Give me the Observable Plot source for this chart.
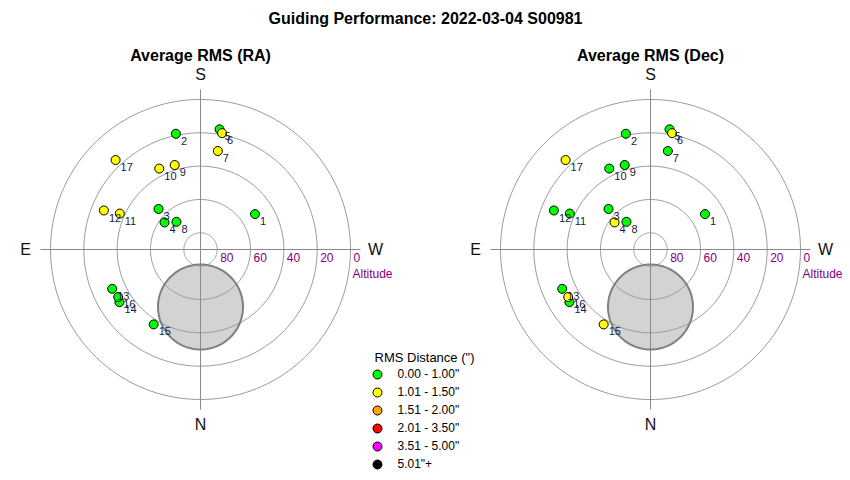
<!DOCTYPE html>
<html>
<head>
<meta charset="utf-8">
<script src="https://cdn.jsdelivr.net/npm/d3@7"></script>
<script src="https://cdn.jsdelivr.net/npm/@observablehq/plot@0.6"></script>
<style>
  html, body { margin: 0; padding: 0; background: #fff; }
  #chart { width: 850px; height: 480px; }
</style>
</head>
<body>
<div id="chart"></div>
<script>
// ---- data ----
const title = "Guiding Performance: 2022-03-04 S00981";
const panelTitles = ["Average RMS (RA)", "Average RMS (Dec)"];
const ids = [1, 2, 3, 4, 5, 6, 7, 8, 9, 10, 11, 12, 13, 14, 15, 16, 17];
const altitude = [51, 19, 55, 63, 17, 19, 30, 68, 37, 35.5, 37, 27.5, 32, 32, 37, 33, 16];
const azimuth = [237, 168, 134, 127, 189, 190.5, 190, 139, 163, 153, 114, 112, 66, 57, 32, 60, 136.5];
// RMS bin index per pointing (0 = 0.00-1.00", 1 = 1.01-1.50")
const raBin  = [0, 0, 0, 0, 0, 1, 1, 0, 1, 1, 1, 1, 0, 0, 0, 0, 1];
const decBin = [0, 0, 0, 1, 0, 1, 0, 0, 0, 0, 0, 0, 0, 0, 1, 1, 1];
const binLabels = ["0.00 - 1.00\"", "1.01 - 1.50\"", "1.51 - 2.00\"", "2.01 - 3.50\"", "3.51 - 5.00\"", "5.01\"+"];
const binColors = ["#00ff00", "#ffff00", "#ffa500", "#ff0000", "#ff00ff", "#000000"];
const legendTitle = "RMS Distance (\")";
const altRings = [80, 60, 40, 20, 0];
const compass = [{t: "S", az: 180}, {t: "N", az: 0}, {t: "E", az: 90}, {t: "W", az: 270}];
const moonAlt = 55.5, moonAz = 0, moonRadius = 25.5;

// ---- layout ----
const W = 850, H = 480;
const PX = 150 / 90;          // pixels per degree of zenith distance
const cx0 = 200, cy0 = 249;   // centre of left panel (px)
const panelOffset = [0, 450 / PX]; // right panel centre 450px to the right

const rad = Math.PI / 180;
function proj(alt, az, off) {
  const zd = 90 - alt;
  return {x: off - zd * Math.sin(az * rad), y: -zd * Math.cos(az * rad)};
}

const panels = panelTitles.map((t, i) => ({title: t, off: panelOffset[i], bins: i === 0 ? raBin : decBin, key: i}));

const points = panels.flatMap(p => ids.map((id, i) => ({
  ...proj(altitude[i], azimuth[i], p.off), id: String(id), bin: binLabels[p.bins[i]]
})));

const rings = panels.flatMap(p => altRings.flatMap(a =>
  d3.range(0, 361, 2).map(t => ({...proj(a, t, p.off), z: p.key + "-" + a}))));

const axesLines = panels.flatMap(p => [
  {a: proj(-6, 0, p.off), b: proj(-6, 180, p.off)},
  {a: proj(-6, 90, p.off), b: proj(-6, 270, p.off)}
]);

const moon = panels.flatMap(p => {
  const c = proj(moonAlt, moonAz, p.off);
  return d3.range(0, 361, 3).map(t => ({x: c.x + moonRadius * Math.cos(t * rad), y: c.y + moonRadius * Math.sin(t * rad), z: p.key}));
});

const compassPts = panels.flatMap(p => compass.map(c => ({...proj(-15, c.az, p.off), t: c.t})));
const tickPts = panels.flatMap(p => altRings.map(a => ({...proj(a, 270, p.off), t: String(a)})));
const altLabel = panels.map(p => ({...proj(0, 270, p.off), t: "Altitude"}));

const font = "Arial, 'Liberation Sans', Helvetica, sans-serif";

const legendMarks = binLabels.flatMap((b, i) => [
  Plot.dot([b], {frameAnchor: "top-left", dx: 377, dy: 374 + 18 * i, r: 4.5, fill: d => d, stroke: "#000", strokeWidth: 1}),
  Plot.text([b], {frameAnchor: "top-left", dx: 397, dy: 374 + 18 * i, lineAnchor: "middle", text: d => d, textAnchor: "start", fontSize: 12, fill: "#000"})
]);

const chart = Plot.plot({
  width: W, height: H,
  margin: 0,
  style: {fontFamily: font, background: "#fff"},
  x: {domain: [-cx0 / PX, (W - cx0) / PX], axis: null},
  y: {domain: [-(H - cy0) / PX, cy0 / PX], axis: null},
  color: {type: "ordinal", domain: binLabels, range: binColors},
  marks: [
    Plot.line(moon, {x: "x", y: "y", z: "z", fill: "#d3d3d3", stroke: "none"}),
    Plot.line(rings, {x: "x", y: "y", z: "z", stroke: "#9a9a9a", strokeWidth: 1}),
    Plot.link(axesLines, {x1: d => d.a.x, y1: d => d.a.y, x2: d => d.b.x, y2: d => d.b.y, stroke: "#8a8a8a", strokeWidth: 1}),
    Plot.line(moon, {x: "x", y: "y", z: "z", stroke: "#808080", strokeWidth: 2}),
    Plot.text(compassPts, {x: "x", y: "y", text: "t", fontSize: 16, fill: "#111"}),
    Plot.text(tickPts, {x: "x", y: "y", text: "t", textAnchor: "start", dx: 3, dy: 9, fontSize: 12, fill: "#800080"}),
    Plot.text(altLabel, {x: "x", y: "y", text: "t", textAnchor: "start", dx: 2, dy: 25, fontSize: 12, fill: "#800080"}),
    Plot.dot(points, {x: "x", y: "y", r: 4.5, fill: "bin", stroke: "#000", strokeWidth: 1}),
    Plot.text(points, {x: "x", y: "y", text: "id", textAnchor: "start", dx: 5, dy: 7.5, fontSize: 11, fill: "#1a1a3a"}),
    Plot.text(panels, {x: "off", frameAnchor: "top", lineAnchor: "middle", dy: 55, text: "title", fontSize: 16, fontWeight: "bold", fill: "#000"}),
    Plot.text([title], {frameAnchor: "top", lineAnchor: "middle", dy: 18, text: d => d, fontSize: 16, fontWeight: "bold", fill: "#000"}),
    Plot.text([legendTitle], {frameAnchor: "top-left", lineAnchor: "middle", dx: 374, dy: 357, text: d => d, textAnchor: "start", fontSize: 13, fill: "#000"}),
    ...legendMarks
  ]
});
document.getElementById("chart").appendChild(chart);
</script>
</body>
</html>
